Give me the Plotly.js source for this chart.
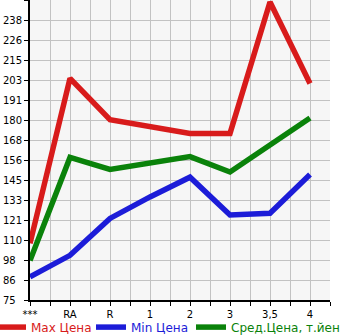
<!DOCTYPE html>
<html><head><meta charset="utf-8">
<script src="https://cdn.plot.ly/plotly-3.0.1.min.js"></script>
<style>html,body{margin:0;padding:0;background:#fff}#c{width:345px;height:335px}</style>
</head><body><div id="c"></div>
<script>
const categories = ["***", "RA", "R", "1", "2", "3", "3,5", "4"];
const maxPrice = [108, 204, 180, 176, 172, 172, 248.5, 201];
const minPrice = [88.5, 101, 122.5, 135, 146.5, 124.5, 125.5, 148];
const avgPrice = [98, 158, 151, 154.5, 158.5, 149.5, 165, 181];
const yLabels = ["75","86","98","110","121","133","145","156","168","180","191","203","215","226","238"];
const yStep = 11.643;
const yBase = 75;

const xIdx = categories.map((_, i) => i);
const xTickVals = [], xTickText = [];
for (let i = 0; i <= categories.length * 2 - 1; i++) {
  xTickVals.push(i / 2);
  xTickText.push(i % 2 === 0 ? categories[i / 2] : "");
}
const yTickVals = yLabels.map((_, i) => yBase + i * yStep);
yTickVals.push(yBase + yLabels.length * yStep);
const yTickText = yLabels.map(s => s.length < 3 ? s + "\u2007" : s);
yTickText.push("");

const mk = (y, name, color) => ({
  x: xIdx, y: y, name: name, type: "scatter", mode: "lines",
  line: {color: color, width: 5.5}
});
const traces = [
  mk(maxPrice, "Max Цена", "#d81b1b"),
  mk(minPrice, "Min Цена", "#1c1cd8"),
  mk(avgPrice, "Сред.Цена, т.йен", "#0a820a")
];
const layout = {
  width: 345, height: 335,
  margin: {l: 30, r: 15, t: 0, b: 35, pad: 0, autoexpand: false},
  paper_bgcolor: "#ffffff", plot_bgcolor: "#f6f6f6",
  font: {family: "DejaVu Sans", size: 10, color: "#000"},
  showlegend: true,
  legend: {orientation: "h", x: -0.13, xanchor: "left", y: -0.042, yanchor: "top",
    font: {size: 12}, itemclick: false, bgcolor: "rgba(0,0,0,0)",
    entrywidth: 55, entrywidthmode: "pixels"},
  xaxis: {range: [0, 7.5], tickmode: "array", tickvals: xTickVals, ticktext: xTickText,
    showgrid: true, gridcolor: "#c2c2c2", gridwidth: 1, zeroline: false,
    showline: true, linecolor: "#000", linewidth: 2, ticks: "outside", ticklen: 4,
    tickcolor: "#000", tickfont: {size: 10}, fixedrange: true},
  yaxis: {range: [yBase, yBase + yLabels.length * yStep], tickmode: "array",
    tickvals: yTickVals, ticktext: yTickText,
    showgrid: true, gridcolor: "#c2c2c2", gridwidth: 1, zeroline: false,
    showline: true, linecolor: "#000", linewidth: 2, ticks: "outside", ticklen: 4,
    tickcolor: "#000", tickfont: {size: 10}, fixedrange: true}
};
Plotly.newPlot("c", traces, layout, {displayModeBar: false, staticPlot: true}).then(() => {
  document.querySelectorAll(".legendtext").forEach((t, i) => {
    t.style.fill = traces[i].line.color;
  });
  document.querySelectorAll(".legend, .legend .scrollbox").forEach(el => {
    el.removeAttribute("clip-path");
  });
});
</script></body></html>
